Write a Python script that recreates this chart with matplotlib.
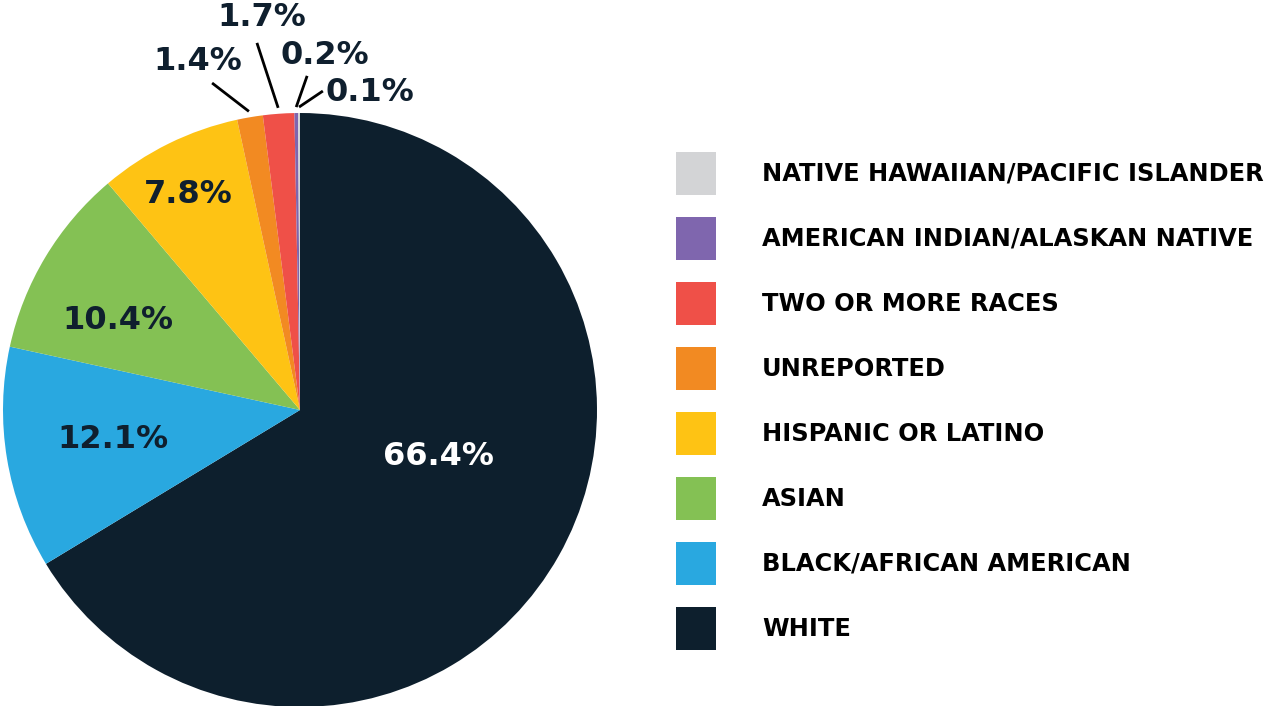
import numpy as np
import matplotlib
matplotlib.use("Agg")
import matplotlib.pyplot as plt

# slices, clockwise from 12 o'clock
groups = ["WHITE", "BLACK/AFRICAN AMERICAN", "ASIAN", "HISPANIC OR LATINO",
          "UNREPORTED", "TWO OR MORE RACES", "AMERICAN INDIAN/ALASKAN NATIVE",
          "NATIVE HAWAIIAN/PACIFIC ISLANDER"]
shares = [66.4, 12.1, 10.4, 7.8, 1.4, 1.7, 0.2, 0.1]
labels = ["66.4%", "12.1%", "10.4%", "7.8%", "1.4%", "1.7%", "0.2%", "0.1%"]
colors = ["#0D1F2D", "#29A8E0", "#84C154", "#FEC314",
          "#F28A22", "#EF5048", "#7F66AE", "#D3D4D6"]

navy = "#0F1F2E"
font = "DejaVu Sans"

fig = plt.figure(figsize=(12.65, 7.06), dpi=100)

# pie centre ~ (300, 410) px, radius ~297 px
cx, cy, R = 300, 410, 297
W, H = 1265, 706
ax = fig.add_axes([(cx - R) / W, (H - cy - R) / H, 2 * R / W, 2 * R / H])
wedges, _ = ax.pie(shares, colors=colors, startangle=90, counterclock=False,
                   radius=1, wedgeprops=dict(linewidth=0))
ax.set_xlim(-1, 1)
ax.set_ylim(-1, 1)
ax.set_aspect("equal")
ax.axis("off")

# labels inside the big slices
inside_pos = [(0.465, -0.155), (-0.63, -0.10), (-0.613, 0.303), (-0.377, 0.724)]
for i, (x, y) in enumerate(inside_pos):
    ax.text(x, y, labels[i], ha="center", va="center", fontsize=23,
            fontweight="bold", family=font,
            color="white" if i == 0 else navy)

# small slices: labels outside with leader lines
outside_txt = [(-0.343, 1.172), (-0.128, 1.320), (0.085, 1.195), (0.235, 1.07)]
line_end = [(-0.296, 1.101), (-0.145, 1.236), (0.024, 1.125), (0.077, 1.074)]
for k, i in enumerate(range(4, 8)):
    w = wedges[i]
    ang = np.deg2rad((w.theta1 + w.theta2) / 2)
    x0, y0 = 1.02 * np.cos(ang), 1.02 * np.sin(ang)
    ax.plot([x0, line_end[k][0]], [y0, line_end[k][1]], color="black", lw=2,
            clip_on=False, solid_capstyle="butt")
    ax.text(outside_txt[k][0], outside_txt[k][1], labels[i], ha="center",
            va="center", fontsize=23, fontweight="bold", family=font,
            color=navy, clip_on=False)

# legend, top row = last slice
fs = 17.4
fpx = fs * 100 / 72
hh = (43 / fpx - 0.245) / 0.65  # legend shrinks patch height by a descent
fig.legend(wedges[::-1], groups[::-1], loc="upper left",
           bbox_to_anchor=(676 / W, 1 - 152 / H), frameon=False,
           borderpad=0, borderaxespad=0, handlelength=40 / fpx,
           handleheight=hh, handletextpad=46 / fpx,
           labelspacing=22 / fpx,
           prop=dict(family=font, weight="bold", size=fs))

fig.savefig("out.png", dpi=100)
